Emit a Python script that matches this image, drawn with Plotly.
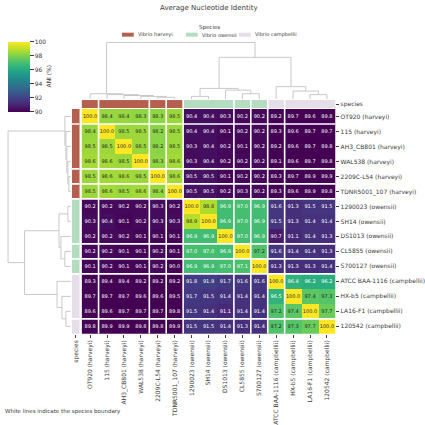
import plotly.graph_objects as go
import plotly.colors as pc

W = H = 425

# ---------------- data ----------------
strains = ["OT920", "115", "AH3_CB801", "WAL538", "2209C-L54", "TDNR5001_107",
           "1290023", "SH14", "DS1013", "CL5855", "S700127",
           "ATCC BAA-1116", "HX-b5", "LA16-F1", "120542"]
species = ["harveyi"] * 6 + ["owensii"] * 5 + ["campbellii"] * 4
species_names = ["Vibrio harveyi", "Vibrio owensii", "Vibrio campbellii"]
species_keys = ["harveyi", "owensii", "campbellii"]

ani = [
    [100.0, 98.4, 98.4, 98.3, 98.3, 98.5, 90.4, 90.4, 90.3, 90.2, 90.2, 89.2, 89.7, 89.6, 89.8],
    [98.4, 100.0, 98.5, 98.5, 98.2, 98.5, 90.4, 90.4, 90.1, 90.2, 90.2, 89.3, 89.6, 89.7, 89.7],
    [98.5, 98.5, 100.0, 98.5, 98.2, 98.5, 90.3, 90.4, 90.2, 90.1, 90.2, 89.2, 89.6, 89.7, 89.8],
    [98.6, 98.6, 98.5, 100.0, 98.3, 98.6, 90.3, 90.4, 90.2, 90.2, 90.2, 89.1, 89.6, 89.7, 89.8],
    [98.5, 98.6, 98.6, 98.5, 100.0, 98.6, 90.5, 90.5, 90.1, 90.2, 90.2, 89.3, 89.7, 89.9, 89.9],
    [98.5, 98.6, 98.5, 98.6, 98.4, 100.0, 90.5, 90.5, 90.2, 90.3, 90.2, 89.3, 89.6, 89.9, 89.8],
    [90.2, 90.2, 90.2, 90.2, 90.3, 90.2, 100.0, 98.8, 96.9, 97.0, 96.9, 91.6, 91.3, 91.5, 91.5],
    [90.3, 90.4, 90.1, 90.2, 90.3, 90.3, 98.9, 100.0, 96.9, 97.0, 96.9, 91.5, 91.3, 91.4, 91.4],
    [90.2, 90.2, 90.2, 90.1, 90.1, 90.1, 96.9, 96.9, 100.0, 97.0, 96.9, 90.7, 91.1, 91.4, 91.3],
    [90.2, 90.2, 90.1, 90.1, 90.2, 90.1, 97.0, 97.0, 96.9, 100.0, 97.2, 91.6, 91.4, 91.4, 91.3],
    [90.1, 90.2, 90.1, 90.1, 90.2, 90.0, 96.9, 96.9, 97.0, 97.1, 100.0, 91.3, 91.3, 91.3, 91.4],
    [89.3, 89.4, 89.4, 89.2, 89.2, 89.2, 91.8, 91.9, 91.7, 91.6, 91.6, 100.0, 96.4, 96.2, 96.2],
    [89.7, 89.7, 89.7, 89.6, 89.6, 89.5, 91.7, 91.5, 91.4, 91.4, 91.4, 96.5, 100.0, 97.4, 97.3],
    [89.6, 89.6, 89.7, 89.7, 89.7, 89.8, 91.5, 91.4, 91.1, 91.4, 91.4, 97.2, 97.4, 100.0, 97.7],
    [89.8, 89.9, 89.9, 89.8, 89.8, 89.9, 91.5, 91.5, 91.4, 91.3, 91.4, 97.2, 97.3, 97.7, 100.0],
]

# cluster boundaries (between index k and k+1)
row_bounds = [0, 3, 4, 5, 8, 9, 10, 13]
col_bounds = [0, 3, 4, 5, 8, 9, 10, 11]

# dendrogram linkage: (left child, right child, relative height); new nodes numbered from 15
linkage = [
    (4, 5, 0.031), (3, 15, 0.047), (2, 16, 0.063), (1, 17, 0.078), (0, 18, 0.094),
    (6, 7, 0.047), (9, 10, 0.094), (8, 21, 0.157), (20, 22, 0.188),
    (13, 14, 0.078), (12, 24, 0.141), (11, 25, 0.219),
    (23, 26, 0.737), (19, 27, 1.0),
]

cb_ticks = [90, 92, 94, 96, 98, 100]
caption = "White lines indicate the species boundary"

# ---------------- style ----------------
FONT = "DejaVu Sans"
TXT = "#3a3a3a"
sp_colors = {"harveyi": "#b5604f", "owensii": "#b4dcc1", "campbellii": "#e5dde7"}
dendro_color = "#c8c8c8"


def px_x(p):
    return p / W


def px_y(p):
    return 1 - p / H


labels = [f"{s} ({sp})" for s, sp in zip(strains, species)]
n = len(strains)
idx = list(range(n))

fig = go.Figure()

# main heatmap
fig.add_trace(go.Heatmap(
    z=ani, x=idx, y=idx, zmin=90, zmax=100, colorscale="Viridis",
    hoverinfo="skip",
    colorbar=dict(x=px_x(8), xanchor="left", y=px_y(42), yanchor="top",
                  len=70, lenmode="pixels", thickness=22, thicknessmode="pixels",
                  xpad=0, ypad=0, outlinewidth=0, tickvals=cb_ticks,
                  ticks="outside", ticklen=4, tickcolor=TXT,
                  tickfont=dict(size=6, color=TXT, family=FONT)),
    xaxis="x", yaxis="y"))

# text colours via luminance (seaborn rule)
vir = pc.sequential.Viridis


def interp(v):
    t = min(max((v - 90) / 10, 0), 1)
    k = t * (len(vir) - 1)
    i = min(int(k), len(vir) - 2)
    f = k - i
    a = pc.hex_to_rgb(vir[i])
    b = pc.hex_to_rgb(vir[i + 1])
    return [(a[j] + (b[j] - a[j]) * f) / 255 for j in range(3)]


def lum(rgb):
    c = [x / 12.92 if x <= 0.03928 else ((x + 0.055) / 1.055) ** 2.4 for x in rgb]
    return 0.2126 * c[0] + 0.7152 * c[1] + 0.0722 * c[2]


dark_x, dark_y, dark_t, lt_x, lt_y, lt_t = [], [], [], [], [], []
for r in range(n):
    for c in range(n):
        v = ani[r][c]
        if lum(interp(v)) > 0.408:
            dark_x.append(c); dark_y.append(r); dark_t.append(f"{v:.1f}")
        else:
            lt_x.append(c); lt_y.append(r); lt_t.append(f"{v:.1f}")
fig.add_trace(go.Scatter(x=dark_x, y=dark_y, text=dark_t, mode="text", hoverinfo="skip",
                         textfont=dict(size=5, color="#262626", family=FONT), xaxis="x", yaxis="y"))
fig.add_trace(go.Scatter(x=lt_x, y=lt_y, text=lt_t, mode="text", hoverinfo="skip",
                         textfont=dict(size=5, color="white", family=FONT), xaxis="x", yaxis="y"))

# species annotation bars
sp_idx = [species_keys.index(s) for s in species]
cs = [[0, sp_colors["harveyi"]], [0.25, sp_colors["harveyi"]],
      [0.25, sp_colors["owensii"]], [0.75, sp_colors["owensii"]],
      [0.75, sp_colors["campbellii"]], [1, sp_colors["campbellii"]]]
fig.add_trace(go.Heatmap(z=[sp_idx], x=idx, y=[0], zmin=0, zmax=2, colorscale=cs,
                         showscale=False, hoverinfo="skip", xaxis="x", yaxis="y2"))
fig.add_trace(go.Heatmap(z=[[s] for s in sp_idx], x=[0], y=idx, zmin=0, zmax=2, colorscale=cs,
                         showscale=False, hoverinfo="skip", xaxis="x2", yaxis="y"))

# dendrograms
pos = {i: float(i) for i in range(n)}
hgt = {i: 0.0 for i in range(n)}
dx, dy = [], []
for k, (a, b, h) in enumerate(linkage):
    node = n + k
    pos[node] = (pos[a] + pos[b]) / 2
    hgt[node] = h
    dx += [pos[a], pos[a], pos[b], pos[b], None]
    dy += [hgt[a], h, h, hgt[b], None]
fig.add_trace(go.Scatter(x=dx, y=dy, mode="lines", line=dict(color=dendro_color, width=1),
                         hoverinfo="skip", xaxis="x", yaxis="y3"))
fig.add_trace(go.Scatter(x=dy, y=dx, mode="lines", line=dict(color=dendro_color, width=1),
                         hoverinfo="skip", xaxis="x3", yaxis="y"))

# boundary lines
shapes = []
wl = dict(color="white", width=1.6)
for k in col_bounds:
    shapes.append(dict(type="line", xref="x", yref="y", x0=k + 0.5, x1=k + 0.5, y0=-0.5, y1=n - 0.5, line=wl))
    shapes.append(dict(type="line", xref="x", yref="y2", x0=k + 0.5, x1=k + 0.5, y0=-0.5, y1=0.5, line=wl))
for k in row_bounds:
    shapes.append(dict(type="line", xref="x", yref="y", x0=-0.5, x1=n - 0.5, y0=k + 0.5, y1=k + 0.5, line=wl))
    shapes.append(dict(type="line", xref="x2", yref="y", x0=-0.5, x1=0.5, y0=k + 0.5, y1=k + 0.5, line=wl))


def ann(text, x, y, size=6, xanchor="center", angle=0):
    return dict(text=text, x=px_x(x), y=px_y(y), xref="paper", yref="paper",
                xanchor=xanchor, yanchor="middle", textangle=angle, showarrow=False,
                font=dict(size=size, color=TXT, family=FONT))


annotations = [
    ann("Average Nucleotide Identity", 213, 8, size=7),
    ann("Species", 213, 28, size=5.5),
    ann("ANI (%)", 49, 77, angle=-90),
    ann(caption, 3, 415, size=5.5, xanchor="left"),
]
leg_x = [124, 189, 243]
for name, key, lx in zip(species_names, species_keys, leg_x):
    shapes.append(dict(type="rect", xref="paper", yref="paper", x0=px_x(lx), x1=px_x(lx + 12),
                       y0=px_y(37), y1=px_y(33), fillcolor=sp_colors[key], line=dict(width=0)))
    annotations.append(ann(name, lx + 14, 35, size=5, xanchor="left"))

tickf = dict(size=6, color=TXT, family=FONT)
fig.update_layout(
    width=W, height=H, margin=dict(l=0, r=0, t=0, b=0),
    paper_bgcolor="white", plot_bgcolor="white", showlegend=False,
    font=dict(family=FONT, color=TXT),
    xaxis=dict(domain=[px_x(83), px_x(341)], range=[-0.5, n - 0.5], anchor="y",
               tickvals=idx, ticktext=labels, tickangle=-90, ticks="outside", ticklen=3,
               tickcolor=TXT, tickfont=tickf, showgrid=False, zeroline=False, showline=False),
    yaxis=dict(domain=[px_y(337), px_y(110)], range=[n - 0.5, -0.5], anchor="x", side="right",
               tickvals=idx, ticktext=labels, ticks="outside", ticklen=3, tickcolor=TXT,
               tickfont=tickf, showgrid=False, zeroline=False, showline=False),
    xaxis2=dict(domain=[px_x(73), px_x(81)], range=[-0.5, 0.5], anchor="y",
                tickvals=[0], ticktext=["species"], tickangle=-90, ticks="outside", ticklen=3,
                tickcolor=TXT, tickfont=tickf, showgrid=False, zeroline=False),
    yaxis2=dict(domain=[px_y(109), px_y(101)], range=[-0.5, 0.5], anchor="x", side="right",
                tickvals=[0], ticktext=["species"], ticks="outside", ticklen=3, tickcolor=TXT,
                tickfont=tickf, showgrid=False, zeroline=False),
    xaxis3=dict(domain=[px_x(5), px_x(72)], range=[1.05, 0], anchor="y", visible=False),
    yaxis3=dict(domain=[px_y(100), px_y(40)], range=[0, 1.05], anchor="x", visible=False),
    shapes=shapes, annotations=annotations,
)

fig.write_html("out.html")
